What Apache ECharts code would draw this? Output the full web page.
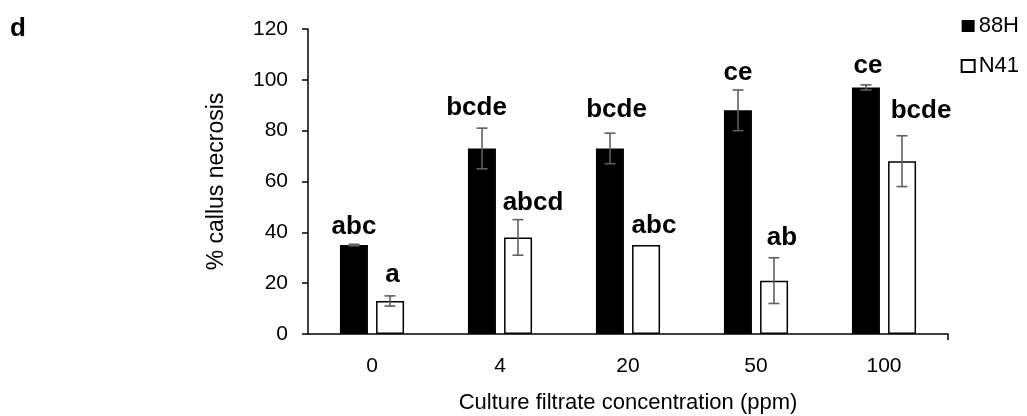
<!DOCTYPE html>
<html><head><meta charset="utf-8">
<script src="https://cdn.jsdelivr.net/npm/echarts@6/dist/echarts.min.js"></script>
<style>html,body{margin:0;padding:0;background:#fff}#c{width:1027px;height:416px}</style>
</head><body><div id="c"></div>
<script>
const categories = ['0', '4', '20', '50', '100'];
const seriesNames = ['88H', 'N41'];
const values88H = [35, 73, 73, 88, 97];
const valuesN41 = [13, 38, 35, 21, 68];
const err88H = [0.3, 8, 6, 8, 1];
const errN41 = [2, 7, 0, 9, 10];
const letters88H = ['abc', 'bcde', 'bcde', 'ce', 'ce'];
const lettersN41 = ['a', 'abcd', 'abc', 'ab', 'bcde'];
const yTicks = [0, 20, 40, 60, 80, 100, 120];

// label placement tweaks (style only): [horizontal nudge px, gap above error bar px]
const nudge88H = [[0, 10], [-5.5, 12.5], [6.5, 16], [0, 10], [2, 12]];
const nudgeN41 = [[2.5, 14], [15, 9], [8, 12], [8, 12.5], [19, 17]];

const FONT = '"Liberation Sans", Arial, sans-serif';
const LABEL_SIZE = 26;
const chart = echarts.init(document.getElementById('c'), null, {renderer: 'canvas'});

function errSeries(vals, errs, letters, nudges, offset) {
  return {
    type: 'custom',
    silent: true,
    z: 10,
    data: vals.map((v, i) => [i, v, errs[i]]),
    encode: {x: 0, y: 1},
    renderItem: function (params, api) {
      const i = api.value(0), v = api.value(1), e = api.value(2);
      const top = api.coord([i, v + e]);
      const bot = api.coord([i, v - e]);
      const cx = top[0] + offset;
      const children = [];
      const st = {stroke: '#5f5f5f', lineWidth: 1.6};
      if (e > 0) {
        children.push({type: 'line', shape: {x1: cx, y1: top[1], x2: cx, y2: bot[1]}, style: st});
        children.push({type: 'line', shape: {x1: cx - 5.5, y1: top[1], x2: cx + 5.5, y2: top[1]}, style: st});
        children.push({type: 'line', shape: {x1: cx - 5.5, y1: bot[1], x2: cx + 5.5, y2: bot[1]}, style: st});
      }
      const n = nudges[params.dataIndex];
      children.push({type: 'text', x: cx + n[0], y: top[1] - n[1] + LABEL_SIZE * 0.21,
        style: {text: letters[params.dataIndex], fill: '#000', font: 'bold ' + LABEL_SIZE + 'px ' + FONT,
          align: 'center', verticalAlign: 'bottom'}});
      return {type: 'group', children: children};
    }
  };
}

chart.setOption({
  animation: false,
  backgroundColor: '#fff',
  grid: {left: 308, right: 79, top: 29, bottom: 82, containLabel: false, outerBoundsMode: 'none'},
  legend: {
    orient: 'vertical', right: 3, top: 10, itemWidth: 13, itemHeight: 12, itemGap: 18,
    icon: 'rect',
    data: seriesNames,
    textStyle: {fontFamily: FONT, fontSize: 22, color: '#000', padding: [0, 0, 0, -1]}
  },
  graphic: [
    {type: 'text', left: 10, top: 16, style: {text: 'd', font: 'bold 26px ' + FONT, fill: '#000'}}
  ],
  xAxis: {
    type: 'category', data: categories,
    name: 'Culture filtrate concentration (ppm)', nameLocation: 'middle', nameGap: 58,
    nameTextStyle: {fontFamily: FONT, fontSize: 22, color: '#000'},
    axisLine: {lineStyle: {color: '#000', width: 1.5}},
    axisTick: {alignWithLabel: true, length: 6, lineStyle: {color: '#000', width: 1.5}},
    axisLabel: {fontFamily: FONT, fontSize: 21, color: '#000', margin: 22}
  },
  yAxis: {
    type: 'value', min: 0, max: 120, interval: 20,
    name: '% callus necrosis', nameLocation: 'middle', nameGap: 80,
    nameTextStyle: {fontFamily: FONT, fontSize: 23, color: '#000'},
    axisLine: {show: true, lineStyle: {color: '#000', width: 1.5}},
    axisTick: {show: true, length: 6, lineStyle: {color: '#000', width: 1.5}},
    splitLine: {show: false},
    axisLabel: {fontFamily: FONT, fontSize: 21, color: '#000', margin: 20,
      formatter: v => yTicks.includes(v) ? String(v) : ''}
  },
  series: [
    {name: seriesNames[0], type: 'bar', data: values88H, barWidth: 28, barGap: '29%',
      itemStyle: {color: '#000', borderColor: '#000', borderWidth: 0}},
    {name: seriesNames[1], type: 'bar', data: valuesN41, barWidth: 28,
      itemStyle: {color: '#fff', borderColor: '#000', borderWidth: 1.5}},
    errSeries(values88H, err88H, letters88H, nudge88H, -18),
    errSeries(valuesN41, errN41, lettersN41, nudgeN41, 18),
    {
      type: 'custom', silent: true, data: [[0, 0]], encode: {x: 0, y: 1},
      renderItem: function (params) {
        const cs = params.coordSys;
        const xr = cs.x + cs.width, yb = cs.y + cs.height;
        return {type: 'line', shape: {x1: xr, y1: yb, x2: xr, y2: yb + 6},
          style: {stroke: '#000', lineWidth: 1.5}};
      }
    }
  ]
});
</script></body></html>
